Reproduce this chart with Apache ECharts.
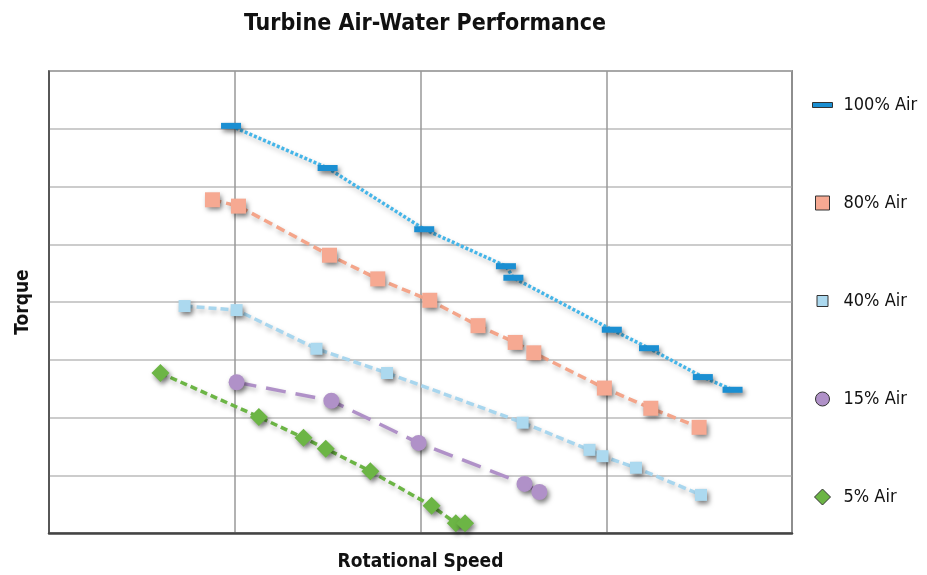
<!DOCTYPE html>
<html>
<head>
<meta charset="utf-8">
<script src="https://cdn.jsdelivr.net/npm/echarts@6/dist/echarts.min.js"></script>
<style>
  html, body { margin: 0; padding: 0; background: #fff; }
  #chart { width: 927px; height: 575px; }
</style>
</head>
<body>
<div id="chart"></div>
<script>
// values (grid units: speed 0..4, torque 0..8)
const seriesNames = ['100% Air', '80% Air', '40% Air', '15% Air', '5% Air']

const air100Speed = [0.98, 1.50, 2.02, 2.46, 2.50, 3.03, 3.23, 3.52, 3.68]
const air100Torque = [7.05, 6.32, 5.26, 4.62, 4.42, 3.52, 3.20, 2.70, 2.48]

const air80Speed = [0.88, 1.02, 1.51, 1.77, 2.05, 2.31, 2.51, 2.61, 2.99, 3.24, 3.50]
const air80Torque = [5.77, 5.66, 4.81, 4.40, 4.03, 3.59, 3.30, 3.12, 2.51, 2.16, 1.83]

const air40Speed = [0.73, 1.01, 1.44, 1.82, 2.55, 2.91, 2.98, 3.16, 3.51]
const air40Torque = [3.93, 3.86, 3.19, 2.77, 1.91, 1.44, 1.33, 1.13, 0.66]

const air15Speed = [1.01, 1.52, 1.99, 2.56, 2.64]
const air15Torque = [2.61, 2.29, 1.56, 0.85, 0.71]

const air5Speed = [0.60, 1.13, 1.37, 1.49, 1.73, 2.06, 2.19, 2.24]
const air5Torque = [2.77, 2.01, 1.65, 1.46, 1.07, 0.47, 0.17, 0.17]

const zip = (xs, ys) => xs.map((x, i) => [x, ys[i]])

const fontNarrow = '"Liberation Sans Narrow", "DejaVu Sans Condensed", "Liberation Sans", sans-serif'

const markShadow = {
  shadowColor: 'rgba(0,0,0,0.5)',
  shadowBlur: 5,
  shadowOffsetX: 2,
  shadowOffsetY: 3,
}
const lineShadow = {
  shadowColor: 'rgba(0,0,0,0.25)',
  shadowBlur: 5,
  shadowOffsetX: 1,
  shadowOffsetY: 3,
}

// legend icons drawn in a 26x16 box so sizes differ like the original
const box = ' M0,0 M26,16'
const legendIcons = {
  '100% Air': 'path://M0,5.5H20V10.5H0Z' + box,
  '80% Air': 'path://M3,1H17V15H3Z' + box,
  '40% Air': 'path://M4.5,2.5H15.5V13.5H4.5Z' + box,
  '15% Air': 'path://M3,8A7,7 0 1,1 17,8A7,7 0 1,1 3,8Z' + box,
  '5% Air': 'path://M10,0L18,8L10,16L2,8Z' + box,
}

const makeSeries = (name, data, color, lineColor, dash, width, symbol, size) => ({
  name,
  type: 'line',
  data,
  symbol,
  symbolSize: size,
  showSymbol: true,
  lineStyle: { color: lineColor, width, type: dash, cap: 'butt', ...lineShadow },
  itemStyle: { color, ...markShadow },
  emphasis: { disabled: true },
  z: 3,
})

const chart = echarts.init(document.getElementById('chart'))

chart.setOption({
  animation: false,
  backgroundColor: '#fff',
  title: {
    text: 'Turbine Air-Water Performance',
    left: 420,
    textAlign: 'center',
    top: 8,
    textStyle: { fontFamily: fontNarrow, fontSize: 23, fontWeight: 'bold', color: '#111' },
  },
  legend: {
    orient: 'vertical',
    left: 807,
    top: 91,
    itemWidth: 26,
    itemHeight: 16,
    itemGap: 80,
    textStyle: { fontFamily: fontNarrow, fontSize: 18, color: '#111', lineHeight: 16 },
    data: seriesNames.map(n => ({
      name: n,
      icon: legendIcons[n],
      itemStyle: { borderColor: '#333', borderWidth: 1 },
    })),
  },
  grid: {
    left: 49, right: 135, top: 71, bottom: 42,
    outerBoundsMode: 'none',
    show: true,
    borderColor: '#444',
    borderWidth: 1.5,
  },
  xAxis: {
    type: 'value',
    min: 0, max: 4, interval: 1,
    name: 'Rotational Speed',
    nameLocation: 'middle',
    nameGap: 20,
    nameTextStyle: { fontFamily: fontNarrow, fontSize: 19, fontWeight: 'bold', color: '#111' },
    axisLabel: { show: false },
    axisTick: { show: false },
    axisLine: { show: true, lineStyle: { color: '#444', width: 2.5 } },
    splitLine: { lineStyle: { color: '#999', width: 1.5 } },
  },
  yAxis: {
    type: 'value',
    min: 0, max: 8, interval: 1,
    name: 'Torque',
    nameLocation: 'middle',
    nameGap: 16,
    nameRotate: 90,
    nameTextStyle: { fontFamily: fontNarrow, fontSize: 19, fontWeight: 'bold', color: '#111' },
    axisLabel: { show: false },
    axisTick: { show: false },
    axisLine: { show: true, lineStyle: { color: '#444', width: 1.5 } },
    splitLine: { lineStyle: { color: '#bbb', width: 1.5 } },
  },
  series: [
    makeSeries('100% Air', zip(air100Speed, air100Torque), '#1b8fd2', '#45b5e8', [3, 2], 3.5, 'rect', [20, 6]),
    makeSeries('80% Air', zip(air80Speed, air80Torque), '#f6a992', '#f4a58a', [9, 5], 3.5, 'rect', 15),
    makeSeries('40% Air', zip(air40Speed, air40Torque), '#acd9ef', '#a8d6ee', [8, 4], 3.5, 'rect', 12),
    makeSeries('15% Air', zip(air15Speed, air15Torque), '#b091c8', '#b091c8', [20, 10], 3.5, 'circle', 16),
    makeSeries('5% Air', zip(air5Speed, air5Torque), '#6cb545', '#6cb545', [7, 4], 3.5, 'diamond', 18),
  ],
})
</script>
</body>
</html>
